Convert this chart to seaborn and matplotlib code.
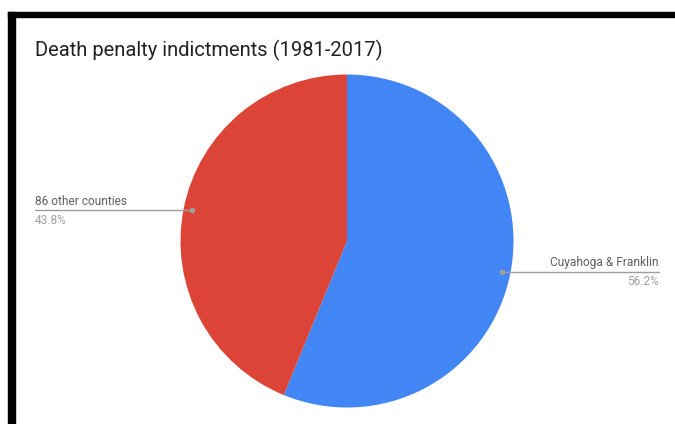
import matplotlib
matplotlib.use("Agg")
import matplotlib.pyplot as plt
import matplotlib.transforms as mtransforms
from matplotlib.patches import Rectangle
import numpy as np
import seaborn as sns

# Data
categories = ["Cuyahoga & Franklin", "86 other counties"]
shares = [56.2, 43.8]
share_labels = ["56.2%", "43.8%"]
slice_colors = ["#4285F4", "#DB4437"]
title = "Death penalty indictments (1981-2017)"

sns.set_theme(style="white")
plt.rcParams["font.family"] = ["Roboto", "DejaVu Sans"]

W, H = 675, 424
fig = plt.figure(figsize=(W / 100, H / 100), dpi=100)
fig.patch.set_facecolor("white")

def px(x, y):
    """Pixel (from top-left) to figure fraction."""
    return x / W, 1 - y / H

# Frame bars along the top and left
fig.patches.append(Rectangle(px(8, 17), (W - 8) / W, 5 / H, transform=fig.transFigure,
                             color="black", zorder=0))
fig.patches.append(Rectangle(px(8, H), 7 / W, (H - 12) / H, transform=fig.transFigure,
                             color="black", zorder=0))

# Pie axes
cx, cy, r = 347, 241, 166.5
ax = fig.add_axes([(cx - r) / W, (H - cy - r) / H, 2 * r / W, 2 * r / H])
wedges, _ = ax.pie(shares, colors=slice_colors, startangle=90, counterclock=False,
                   radius=1.0, wedgeprops=dict(linewidth=0))
ax.set_xlim(-1, 1)
ax.set_ylim(-1, 1)
ax.set_aspect("equal")
ax.axis("off")

fig.text(*px(35, 56), title, fontsize=14.5, color="#222222", va="baseline", ha="left")

blend = mtransforms.blended_transform_factory(fig.transFigure, ax.transData)
line_col = "#9E9E9E"
for w, name, pct in zip(wedges, categories, share_labels):
    mid = np.deg2rad((w.theta1 + w.theta2) / 2)
    dx, dy = 0.95 * np.cos(mid), 0.95 * np.sin(mid)
    ax.plot([dx], [dy], "o", ms=3, color=line_col, zorder=5, clip_on=False)
    if dx < 0:
        end_x = 35 / W
        ha = "left"
    else:
        end_x = 659 / W
        ha = "right"
    xd = ax.transData.transform((dx, dy))
    xf = fig.transFigure.inverted().transform(xd)[0]
    ax.plot([xf, end_x], [dy, dy], color=line_col, lw=1, transform=blend, clip_on=False)
    ax.annotate(name, xy=(end_x, dy), xycoords=blend, xytext=(0, 1.8), textcoords="offset points",
                ha=ha, va="bottom", fontsize=8.6, color="#5F5F5F")
    ax.annotate(pct, xy=(end_x, dy), xycoords=blend, xytext=(0, -2.5), textcoords="offset points",
                ha=ha, va="top", fontsize=8.6, color="#A0A0A0")

fig.savefig("out.png", dpi=100, facecolor="white")
